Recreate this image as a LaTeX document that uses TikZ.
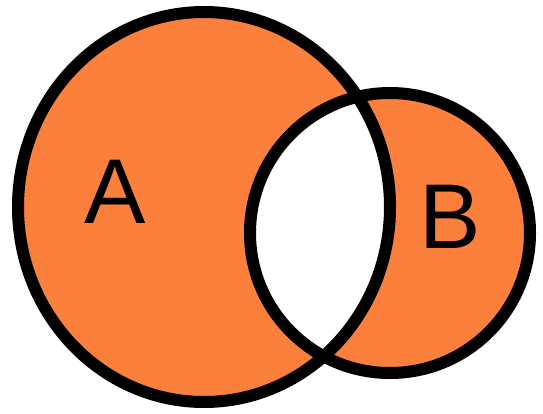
\documentclass[tikz,border=0pt]{standalone}
\usepackage{fontspec}
\setmainfont{Liberation Sans}
\definecolor{vennorange}{RGB}{250,128,60}
\tikzset{
  setline/.style={draw=black, line width=12pt},
  setlabel/.style={font=\fontsize{92}{92}\selectfont, inner sep=0pt, text=black}
}
\begin{document}
\begin{tikzpicture}[x=1pt,y=-1pt]
\useasboundingbox (0,0) rectangle (543,414);
\fill[white] (0,0) rectangle (543,414);
\fill[vennorange, even odd rule] (204,207) ellipse [x radius=186, y radius=195]
  (390,233) circle [radius=140];
\draw[setline] (204,207) ellipse [x radius=186, y radius=195];
\draw[setline] (390,233) circle [radius=140];
\node[setlabel, anchor=base] (labelA) at (115,223) {A};
\node[setlabel, anchor=base] (labelB) at (450,248) {B};
\end{tikzpicture}
\end{document}
